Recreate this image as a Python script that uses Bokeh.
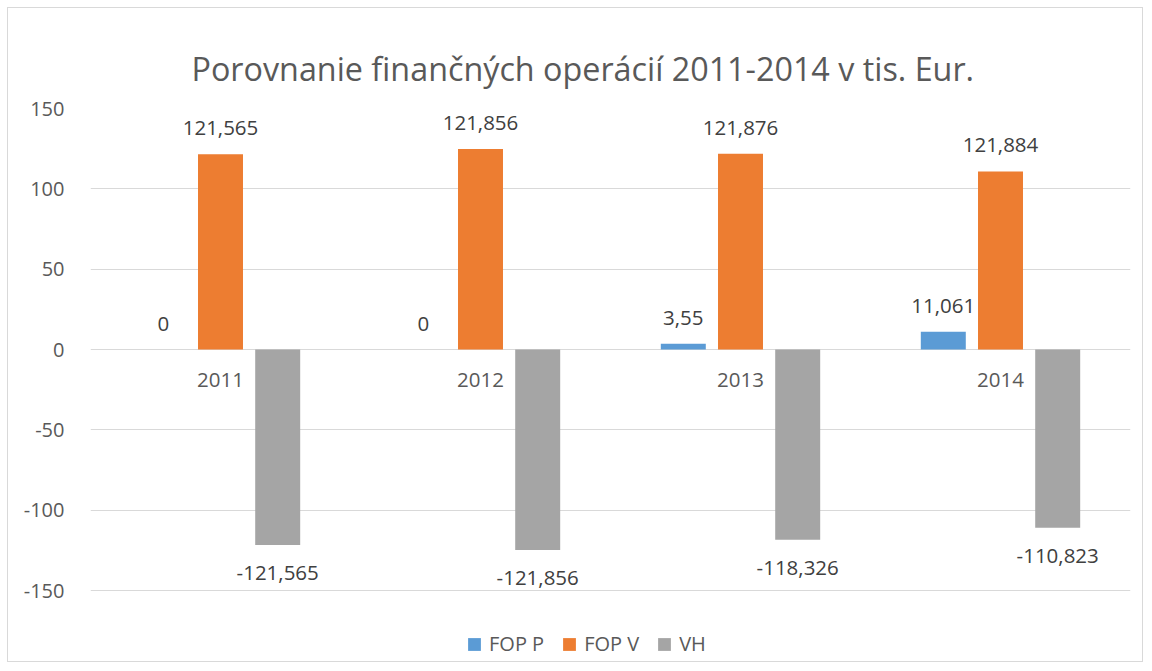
from bokeh.plotting import figure
from bokeh.models import FactorRange, Legend, LegendItem, ColumnDataSource, Range1d, FixedTicker
from bokeh.transform import dodge
from bokeh.core.properties import value
from bokeh.embed import file_html
from bokeh.resources import INLINE

years = ["2011", "2012", "2013", "2014"]
fop_p = [0, 0, 3.55, 11.061]
fop_v = [121.565, 124.8, 121.876, 110.8]
vh = [-121.565, -124.8, -118.326, -110.823]
fop_p_labels = ["0", "0", "3,55", "11,061"]
fop_v_labels = ["121,565", "121,856", "121,876", "121,884"]
vh_labels = ["-121,565", "-121,856", "-118,326", "-110,823"]
y_ticks = [-150, -100, -50, 0, 50, 100, 150]
y_tick_labels = ["-150", "-100", "-50", "0", "50", "100", "150"]
zeros = [0, 0, 0, 0]

FONT = "Open Sans"
C_P, C_V, C_H = "#5B9BD5", "#ED7D31", "#A5A5A5"

src = ColumnDataSource(dict(year=years, p=fop_p, v=fop_v, h=vh,
                            pl=fop_p_labels, vl=fop_v_labels, hl=vh_labels, z=zeros))

# y range extended below -150 (no gridline there) so labels and legend are not clipped
p = figure(width=1136, height=655, x_range=FactorRange(*years, range_padding=0),
           y_range=Range1d(-193.5, 150), output_backend="svg", toolbar_location=None,
           x_axis_location=None, min_border_left=82, min_border_right=14,
           min_border_top=100, min_border_bottom=3)
p.styles = {"margin": "7px 0 0 7px", "border": "1px solid #d9d9d9"}
p.outline_line_color = None
p.background_fill_color = "white"

p.title.text = "Porovnanie finančných operácií 2011-2014 v tis. Eur."
p.title.align = "left"
p.title.text_font = FONT
p.title.text_font_size = "32.3px"
p.title.text_font_style = "normal"
p.title.text_color = "#595959"
p.title.offset = 101
p.title.standoff = 37

p.xgrid.grid_line_color = None
p.ygrid.ticker = FixedTicker(ticks=y_ticks)
p.ygrid.grid_line_color = "#D9D9D9"
p.ygrid.grid_line_width = 1

ax = p.yaxis[0]
ax.ticker = FixedTicker(ticks=y_ticks)
ax.major_label_overrides = {t: s for t, s in zip(y_ticks, y_tick_labels)}
ax.axis_line_color = None
ax.major_tick_line_color = None
ax.minor_tick_line_color = None
ax.major_label_text_font = FONT
ax.major_label_text_font_size = "20px"
ax.major_label_text_color = "#595959"
ax.major_label_standoff = 20

W = 0.173
r1 = p.vbar(x=dodge("year", -0.22, range=p.x_range), top="p", bottom=0, width=W, source=src,
            fill_color=C_P, line_color=None)
r2 = p.vbar(x=dodge("year", 0.0, range=p.x_range), top="v", bottom=0, width=W, source=src,
            fill_color=C_V, line_color=None)
r3 = p.vbar(x=dodge("year", 0.22, range=p.x_range), top=0, bottom="h", width=W, source=src,
            fill_color=C_H, line_color=None)

common = dict(source=src, text_font=value(FONT), text_font_size="20.5px",
              text_color="#404040", text_align="center", text_baseline="alphabetic")
p.text(x=dodge("year", -0.22, range=p.x_range), y="p", text="pl", y_offset=-26, **common)
p.text(x=dodge("year", 0.0, range=p.x_range), y="v", text="vl", y_offset=-26, **common)
p.text(x=dodge("year", 0.22, range=p.x_range), y="h", text="hl", y_offset=28, **common)
cat = dict(common)
cat["text_color"] = "#595959"
p.text(x="year", y="z", text="year", y_offset=30, **cat)

legend = Legend(items=[LegendItem(label="FOP P", renderers=[r1]),
                       LegendItem(label="FOP V", renderers=[r2]),
                       LegendItem(label="VH", renderers=[r3])],
                orientation="horizontal", location=(376, 3),
                label_text_font=FONT, label_text_font_size="20px", label_text_color="#595959",
                glyph_width=16, glyph_height=16, label_standoff=7, spacing=17,
                padding=0, margin=0, border_line_color=None, background_fill_alpha=0)
p.add_layout(legend)

open("out.html", "w").write(file_html(p, INLINE))
